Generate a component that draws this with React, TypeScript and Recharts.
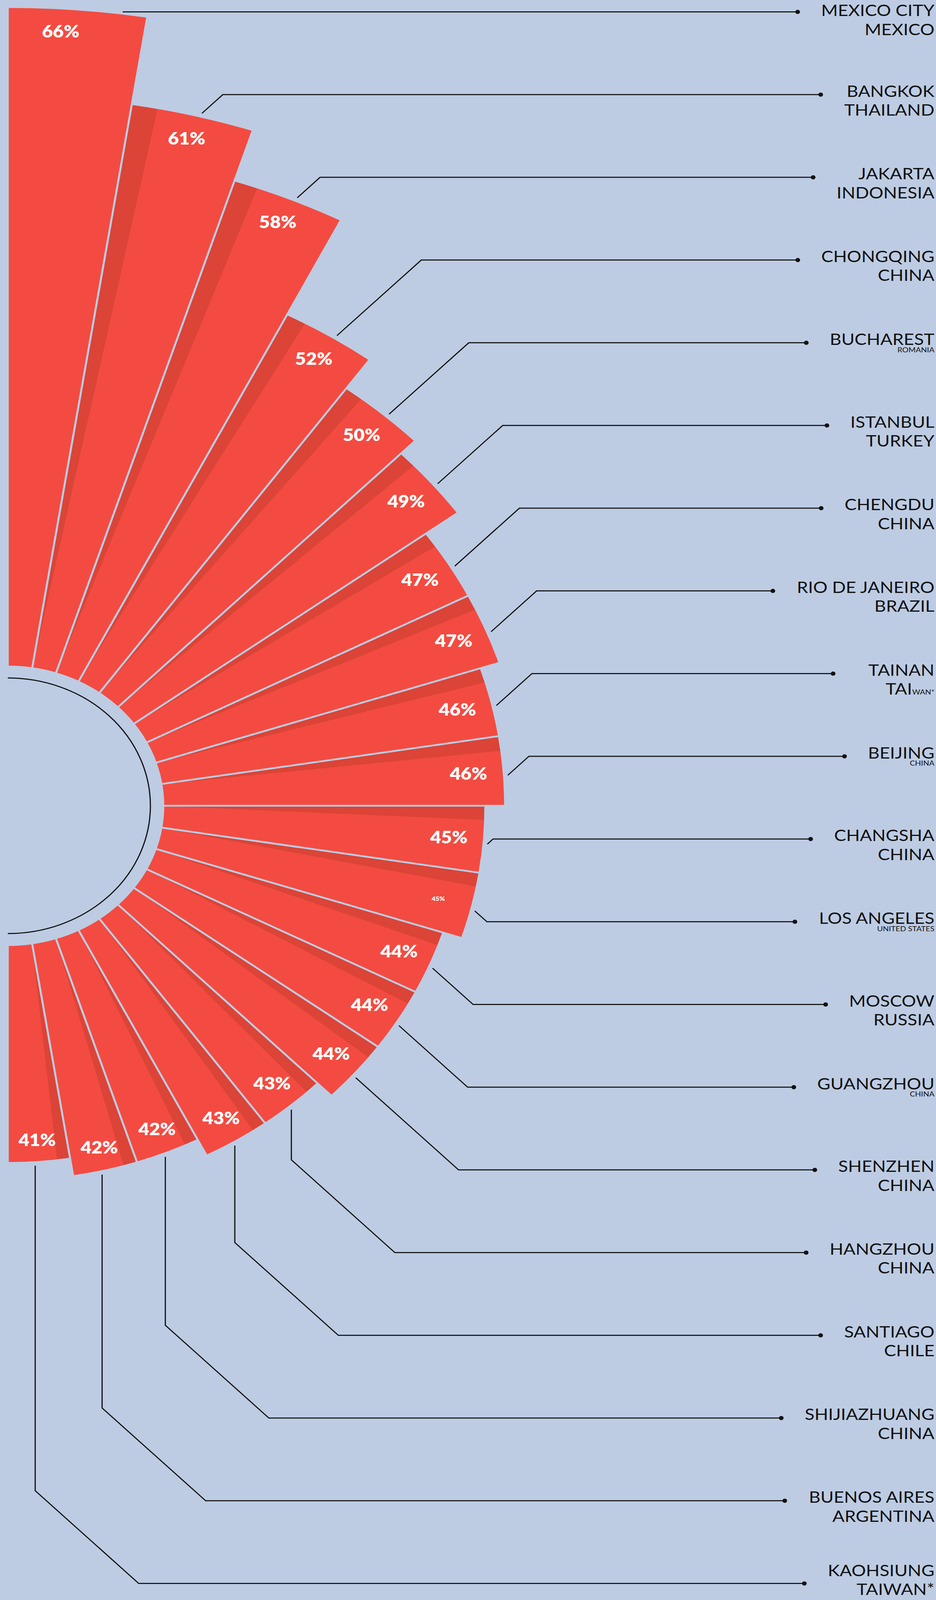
import { useLayoutEffect, useState } from "react";
import { PolarAngleAxis, PolarRadiusAxis, RadialBar, RadialBarChart, Sector } from "recharts";

// congestion level per city, clockwise from the top
const cities = [
  "MEXICO CITY", "BANGKOK", "JAKARTA", "CHONGQING", "BUCHAREST",
  "ISTANBUL", "CHENGDU", "RIO DE JANEIRO", "TAINAN", "BEIJING",
  "CHANGSHA", "LOS ANGELES", "MOSCOW", "GUANGZHOU", "SHENZHEN",
  "HANGZHOU", "SANTIAGO", "SHIJIAZHUANG", "BUENOS AIRES", "KAOHSIUNG",
];
const countries = [
  "MEXICO", "THAILAND", "INDONESIA", "CHINA", "ROMANIA",
  "TURKEY", "CHINA", "BRAZIL", "TAIWAN*", "CHINA",
  "CHINA", "UNITED STATES", "RUSSIA", "CHINA", "CHINA",
  "CHINA", "CHILE", "CHINA", "ARGENTINA", "TAIWAN*",
];
const congestion = [66, 61, 58, 52, 50, 49, 47, 47, 46, 46, 45, 45, 44, 44, 44, 43, 43, 42, 42, 41];

// the angle axis runs counter-clockwise from the bottom, so feed the rows bottom-up
const rows = cities
  .map((city, i) => ({ city, country: countries[i], value: congestion[i] }))
  .reverse();

// layout / style
const W = 2396;
const H = 4571;
const CX = 20;
const CY = 2302;
const INNER = 398;
const OUTER = 2282;
const BAND = 180 / cities.length;
const BG = "#BDCCE3";
const RED = "#F34B41";
const SHADE = "#DB4437";
const INK = "#111111";
const LABEL_TOP = 34;
const LABEL_STEP = 236.3;
const TEXT_RIGHT = 2392;
const NAME_SIZE = 46;
const SMALL_SIZE = 20;
const FONT = "Lato, 'Open Sans', sans-serif";
const SMALL_COUNTRY = new Set(["BUCHAREST", "BEIJING", "LOS ANGELES", "GUANGZHOU"]);
const SPLIT_COUNTRY: Record<string, number> = { TAINAN: 3 };
const TINY_PCT = new Set(["LOS ANGELES"]);

const RAD = Math.PI / 180;
const polar = (cx: number, cy: number, r: number, a: number) => ({
  x: cx + r * Math.cos(-a * RAD),
  y: cy + r * Math.sin(-a * RAD),
});

let ctx: CanvasRenderingContext2D | null = null;
function textWidth(s: string, size: number) {
  if (!ctx) ctx = document.createElement("canvas").getContext("2d");
  if (!ctx) return s.length * size * 0.65;
  ctx.font = `400 ${size}px Lato`;
  return ctx.measureText(s).width;
}

function CityLabel({ city, country, y }: { city: string; country: string; y: number }) {
  const small = SMALL_COUNTRY.has(city);
  const split = SPLIT_COUNTRY[city];
  // keep the block inside the poster at the top and bottom edges
  let top = y + 6;
  if (top < NAME_SIZE) top = NAME_SIZE;
  if (!small && top + 54 > H - 14) top = H - 14 - 54;
  return (
    <g fill={INK} fontFamily={FONT} textAnchor="end">
      <text x={TEXT_RIGHT} y={top} fontSize={NAME_SIZE}>
        {city}
      </text>
      {small ? (
        <text x={TEXT_RIGHT} y={top + 21} fontSize={SMALL_SIZE}>
          {country}
        </text>
      ) : split ? (
        <text x={TEXT_RIGHT} y={top + 54} fontSize={NAME_SIZE}>
          <tspan>{country.slice(0, split)}</tspan>
          <tspan fontSize={SMALL_SIZE}>{country.slice(split)}</tspan>
        </text>
      ) : (
        <text x={TEXT_RIGHT} y={top + 54} fontSize={NAME_SIZE}>
          {country}
        </text>
      )}
    </g>
  );
}

function BarShape(props: any) {
  const { cx, cy, innerRadius, outerRadius, startAngle, endAngle, payload } = props;
  const i = cities.indexOf(payload.city);
  const hi = Math.max(startAngle, endAngle);
  const lo = Math.min(startAngle, endAngle);
  const mid = (hi + lo) / 2;

  // shaded fold along the edge facing the previous bar
  const a = polar(cx, cy, innerRadius, hi);
  const b = polar(cx, cy, outerRadius, hi);
  const c = polar(cx, cy, outerRadius, hi - 1.9);
  const d = polar(cx, cy, innerRadius, hi - 0.1);
  const shade = `M${a.x},${a.y} L${b.x},${b.y} A${outerRadius},${outerRadius} 0 0 1 ${c.x},${c.y} L${d.x},${d.y} Z`;

  // percentage label
  const off = 62 + 28 * Math.abs(Math.cos(mid * RAD));
  const lp = polar(cx, cy, outerRadius - off, mid + (i === 0 ? 1 : 0));
  const tiny = TINY_PCT.has(payload.city);

  // leader line
  const ly = LABEL_TOP + i * LABEL_STEP;
  const p = polar(cx, cy, outerRadius + 10, mid - 0.6);
  let pts: [number, number][];
  if (mid > 0 && ly > p.y) {
    const r = outerRadius + 5;
    pts = [[cx + Math.sqrt(r * r - (cy - ly) * (cy - ly)), ly]];
  } else if (ly <= p.y) {
    pts = [[p.x, p.y], [p.x + (p.y - ly), ly]];
  } else {
    const dy = ly - p.y;
    pts = dy > 265
      ? [[p.x, p.y], [p.x, ly - 265], [p.x + 265, ly]]
      : [[p.x, p.y], [p.x + dy, ly]];
  }
  const country = payload.country as string;
  const w = Math.max(
    textWidth(payload.city, NAME_SIZE),
    SMALL_COUNTRY.has(payload.city) ? 0 : textWidth(country, NAME_SIZE),
  );
  const dotX = TEXT_RIGHT - w - 60;
  pts.push([dotX, ly]);

  return (
    <g>
      {i === 0 && (
        <path
          d={`M${cx},${cy - 365} A365,365 0 0 1 ${cx},${cy + 365}`}
          fill="none"
          stroke={INK}
          strokeWidth={3}
        />
      )}
      <Sector cx={cx} cy={cy} innerRadius={innerRadius} outerRadius={outerRadius}
        startAngle={startAngle} endAngle={endAngle} fill={RED} />
      {i > 0 && <path d={shade} fill={SHADE} />}
      <Sector cx={cx} cy={cy} innerRadius={innerRadius} outerRadius={outerRadius}
        startAngle={startAngle} endAngle={endAngle} fill="none" stroke={BG} strokeWidth={5} />
      <text x={lp.x} y={lp.y} textAnchor="middle" dominantBaseline="central"
        fill="#ffffff" fontFamily={FONT} fontWeight={800} fontSize={tiny ? 17 : 48}>
        {`${payload.value}%`}
      </text>
      <polyline points={pts.map((q) => q.join(",")).join(" ")} fill="none" stroke={INK} strokeWidth={3} />
      <circle cx={dotX} cy={ly} r={6} fill={INK} />
      <CityLabel city={payload.city} country={country} y={ly} />
    </g>
  );
}

export default function App() {
  // shrink the poster to the visible viewport when the window is shorter than the artwork
  const [fit, setFit] = useState<[number, number]>([1, 1]);
  useLayoutEffect(() => {
    const update = () =>
      setFit([Math.min(1, window.innerWidth / W), Math.min(1, window.innerHeight / H)]);
    update();
    window.addEventListener("resize", update);
    return () => window.removeEventListener("resize", update);
  }, []);

  // Recharts places each centric bar one band behind its tick, so the
  // axis range is shifted by one band to land the bars on -90..90.
  return (
    <div style={{ position: "fixed", left: 0, top: 0, right: 0, bottom: 0, overflow: "hidden", background: BG }}>
      <div
        style={{
          position: "absolute",
          left: 0,
          top: 0,
          width: W,
          height: H,
          transformOrigin: "0 0",
          transform: `scale(${fit[0]}, ${fit[1]})`,
        }}
      >
        <RadialBarChart
          width={W}
          height={H}
          data={rows}
          cx={CX}
          cy={CY}
          innerRadius={INNER}
          outerRadius={OUTER}
          startAngle={-90 + BAND}
          endAngle={90 + BAND}
          layout="centric"
          barCategoryGap={0}
          barGap={0}
          margin={{ top: 0, right: 0, bottom: 0, left: 0 }}
        >
          <PolarAngleAxis type="category" dataKey="city" tick={false} tickLine={false} axisLine={false} />
          <PolarRadiusAxis type="number" domain={[28.66, 66]} tick={false} tickLine={false} axisLine={false} />
          <RadialBar dataKey="value" fill={RED} shape={BarShape} isAnimationActive={false} />
        </RadialBarChart>
      </div>
    </div>
  );
}
